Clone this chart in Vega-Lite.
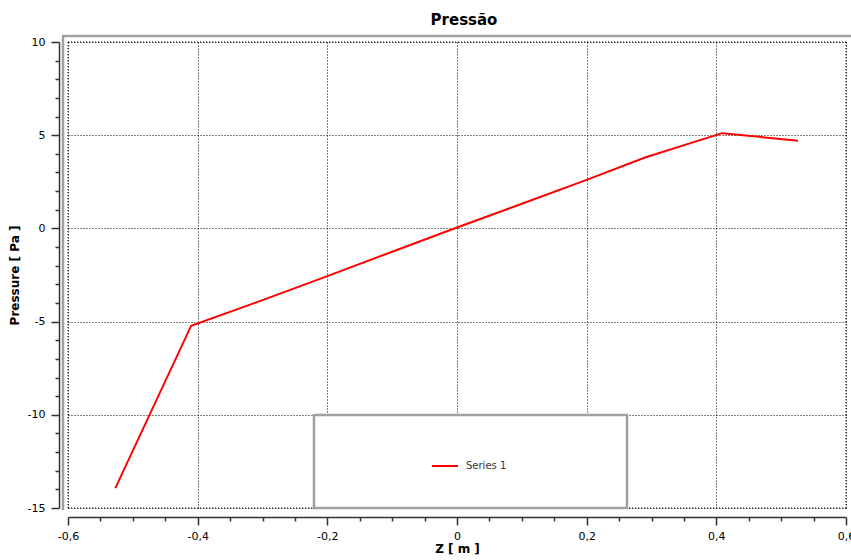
{
  "$schema": "https://vega.github.io/schema/vega-lite/v6.json",
  "width": 778,
  "height": 466,
  "autosize": {"type": "none"},
  "padding": {"left": 68, "top": 42, "right": 5, "bottom": 52},
  "background": "white",
  "title": {"text": "Pressão", "font": "DejaVu Sans", "fontSize": 15, "fontWeight": "bold", "color": "#000000", "anchor": "middle", "dx": 7, "offset": 7},
  "config": {
    "view": {"stroke": null},
    "font": "DejaVu Sans",
    "locale": {"number": {"decimal": ",", "thousands": ".", "grouping": [3], "currency": ["", ""], "minus": "-"}}
  },
  "layer": [
    {
      "data": {"values": [
        {"z": -0.527, "p": -13.93, "series": "Series 1"},
        {"z": -0.41, "p": -5.22, "series": "Series 1"},
        {"z": -0.3, "p": -3.85, "series": "Series 1"},
        {"z": -0.2, "p": -2.56, "series": "Series 1"},
        {"z": -0.1, "p": -1.25, "series": "Series 1"},
        {"z": 0.0, "p": 0.05, "series": "Series 1"},
        {"z": 0.1, "p": 1.32, "series": "Series 1"},
        {"z": 0.2, "p": 2.6, "series": "Series 1"},
        {"z": 0.29, "p": 3.8, "series": "Series 1"},
        {"z": 0.409, "p": 5.11, "series": "Series 1"},
        {"z": 0.526, "p": 4.7, "series": "Series 1"}
      ]},
      "mark": {"type": "line", "strokeWidth": 2},
      "encoding": {
        "x": {
          "field": "z", "type": "quantitative",
          "scale": {"domain": [-0.6, 0.6], "nice": false, "zero": false},
          "axis": {
            "title": "Z [ m ]",
            "titleFont": "DejaVu Sans", "titleFontSize": 12, "titleFontWeight": "bold", "titleColor": "#000000", "titlePadding": 2,
            "values": [-0.6,-0.55,-0.5,-0.45,-0.4,-0.35,-0.3,-0.25,-0.2,-0.15,-0.1,-0.05,0,0.05,0.1,0.15,0.2,0.25,0.3,0.35,0.4,0.45,0.5,0.55,0.6],
            "tickCount": 100,
            "labelExpr": "abs(round(datum.value*100)) % 20 === 0 ? format(round(datum.value*10)/10, '.1~f') : ''",
            "labelFont": "DejaVu Sans", "labelFontSize": 11, "labelColor": "#000000", "labelPadding": 5,
            "labelOverlap": false, "labelFlush": false,
            "offset": 9,
            "domainColor": "#333333", "domainWidth": 1.5,
            "tickColor": "#333333", "tickWidth": 1.5,
            "tickSize": {"condition": {"test": "abs(round(datum.value*100)) % 20 === 0", "value": 8}, "value": 4},
            "grid": true,
            "gridColor": "#000000", "gridDash": [1, 2], "gridWidth": 1,
            "gridOpacity": {"condition": {"test": "abs(round(datum.value*100)) % 20 === 0", "value": 1}, "value": 0}
          }
        },
        "y": {
          "field": "p", "type": "quantitative",
          "scale": {"domain": [-15, 10], "nice": false, "zero": false},
          "axis": {
            "title": "Pressure [ Pa ]",
            "titleFont": "DejaVu Sans", "titleFontSize": 12, "titleFontWeight": "bold", "titleColor": "#000000", "titlePadding": 6,
            "values": [-15,-14,-13,-12,-11,-10,-9,-8,-7,-6,-5,-4,-3,-2,-1,0,1,2,3,4,5,6,7,8,9,10],
            "tickCount": 100,
            "labelExpr": "abs(round(datum.value)) % 5 === 0 ? format(datum.value, 'd') : ''",
            "labelFont": "DejaVu Sans", "labelFontSize": 11, "labelColor": "#000000", "labelPadding": 6,
            "labelOverlap": false, "labelFlush": false,
            "offset": 9,
            "domainColor": "#333333", "domainWidth": 1.5,
            "tickColor": "#333333", "tickWidth": 1.5,
            "tickSize": {"condition": {"test": "abs(round(datum.value)) % 5 === 0", "value": 8}, "value": 4},
            "grid": true,
            "gridColor": "#000000", "gridDash": [1, 2], "gridWidth": 1,
            "gridOpacity": {"condition": {"test": "abs(round(datum.value)) % 5 === 0", "value": 1}, "value": 0}
          }
        },
        "color": {
          "field": "series", "type": "nominal",
          "scale": {"range": ["#ff0000"]},
          "legend": {
            "orient": "none", "legendX": 246, "legendY": 373,
            "title": " ", "titleOrient": "right", "titlePadding": 84,
            "padding": 37,
            "symbolOffset": 80, "symbolType": "stroke", "symbolSize": 676, "symbolStrokeWidth": 2,
            "labelFont": "DejaVu Sans", "labelFontSize": 10, "labelColor": "#333333", "labelOffset": 7,
            "strokeColor": "#a0a0a0", "fillColor": "white",
            "encode": {"legend": {"update": {"strokeWidth": {"value": 2.5}}}}
          }
        }
      }
    },
    {
      "data": {"values": [{}]},
      "mark": {"type": "rule", "color": "#000000", "strokeWidth": 1, "strokeDash": [1, 2]},
      "encoding": {"x": {"datum": -0.6, "type": "quantitative"}, "y": {"datum": 10, "type": "quantitative"}, "y2": {"datum": -15}}
    },
    {
      "data": {"values": [{}]},
      "mark": {"type": "rule", "color": "#000000", "strokeWidth": 1, "strokeDash": [1, 2]},
      "encoding": {"x": {"datum": 0.6, "type": "quantitative"}, "y": {"datum": 10, "type": "quantitative"}, "y2": {"datum": -15}}
    },
    {
      "data": {"values": [{}]},
      "mark": {"type": "rule", "color": "#000000", "strokeWidth": 1, "strokeDash": [1, 2]},
      "encoding": {"y": {"datum": 10, "type": "quantitative"}, "x": {"datum": -0.6, "type": "quantitative"}, "x2": {"datum": 0.6}}
    },
    {
      "data": {"values": [{}]},
      "mark": {"type": "rule", "color": "#000000", "strokeWidth": 1, "strokeDash": [1, 2]},
      "encoding": {"y": {"datum": -15, "type": "quantitative"}, "x": {"datum": -0.6, "type": "quantitative"}, "x2": {"datum": 0.6}}
    },
    {
      "data": {"values": [{}]},
      "mark": {"type": "rule", "color": "#a0a0a0", "strokeWidth": 2.5, "xOffset": -6, "yOffset": -6, "x2Offset": 10},
      "encoding": {"x": {"datum": -0.6, "type": "quantitative"}, "x2": {"datum": 0.6}, "y": {"datum": 10, "type": "quantitative"}}
    },
    {
      "data": {"values": [{}]},
      "mark": {"type": "rule", "color": "#a0a0a0", "strokeWidth": 2.5, "xOffset": -5, "yOffset": -6, "y2Offset": 2},
      "encoding": {"x": {"datum": -0.6, "type": "quantitative"}, "y": {"datum": 10, "type": "quantitative"}, "y2": {"datum": -15}}
    }
  ]
}
